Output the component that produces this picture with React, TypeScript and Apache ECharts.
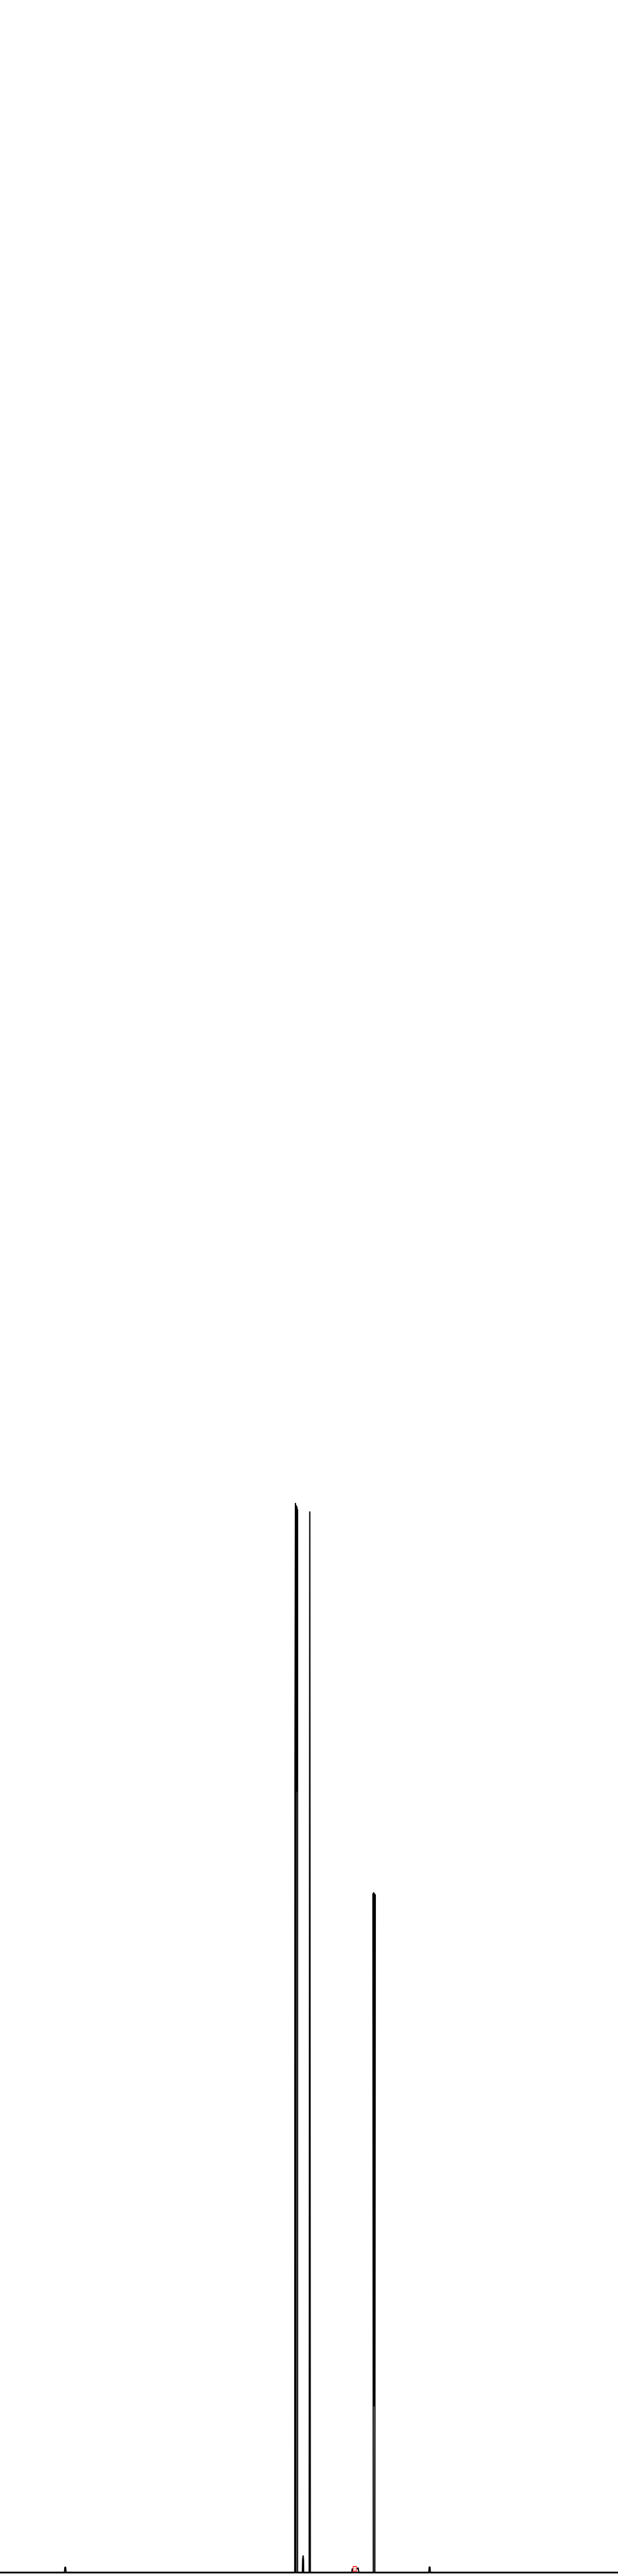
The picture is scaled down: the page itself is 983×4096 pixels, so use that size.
import React, { useEffect, useRef } from "react";
import * as echarts from "echarts";

// x in arbitrary units (0 – 144), intensity in % of base peak
const xRange = [0, 144];
const yMax = 240.5;

const baselineStart: [number, number][] = [[0, 0]];
const peak15: [number, number][] = [[15.0, 0], [15.1, 0.36], [15.12, 0.5], [15.3, 0.5], [15.32, 0.36], [15.4, 0]];
const peak688: [number, number][] = [
  [68.68, 0], [68.73, 74.6], [68.84, 100], [68.95, 0], [69.0, 99.8], [69.06, 74],
  [69.11, 99.7], [69.16, 73], [69.22, 99.6], [69.27, 74], [69.33, 99.4], [69.33, 0],
];
const peak706: [number, number][] = [[70.46, 0], [70.52, 1.17], [70.63, 1.6], [70.72, 1.17], [70.75, 0]];
const peak722: [number, number][] = [[72.04, 0], [72.15, 74.4], [72.18, 99.2], [72.21, 74.4], [72.3, 0]];
const peak827: [number, number][] = [[81.98, 0], [82.08, 0.36], [82.67, 0.35], [83.3, 0.38], [83.45, 0.45], [83.62, 0]];
const peak872: [number, number][] = [
  [86.98, 0], [86.90, 63.5], [86.99, 15.5], [87.08, 63.6], [87.17, 15.6],
  [87.26, 63.5], [87.35, 15.5], [87.44, 63.4], [87.34, 0],
];
const peak1001: [number, number][] = [[99.92, 0], [99.98, 0.36], [100.0, 0.52], [100.2, 0.52], [100.22, 0.36], [100.28, 0]];
const baselineEnd: [number, number][] = [[144, 0]];

const markedPoint: [number, number][] = [[82.67, 0.35]];

export default function App() {
  const ref = useRef<HTMLDivElement>(null);
  useEffect(() => {
    if (!ref.current) return;
    const chart = echarts.init(ref.current, null, { renderer: "svg" });
    const lineData = [
      ...baselineStart,
      ...peak15,
      ...peak688,
      ...peak706,
      ...peak722,
      ...peak827,
      ...peak872,
      ...peak1001,
      ...baselineEnd,
    ];
    chart.setOption({
      animation: false,
      backgroundColor: "#ffffff",
      grid: { left: 0, right: 0, top: 0, bottom: 5.4, containLabel: false },
      xAxis: {
        type: "value",
        min: xRange[0],
        max: xRange[1],
        axisLine: { show: true, onZero: false, lineStyle: { color: "#000", width: 2.7 } },
        axisTick: { show: false },
        axisLabel: { show: false },
        splitLine: { show: false },
      },
      yAxis: {
        type: "value",
        min: 0,
        max: yMax,
        show: false,
        splitLine: { show: false },
      },
      series: [
        {
          type: "line",
          data: lineData,
          showSymbol: false,
          symbol: "none",
          clip: false,
          lineStyle: { color: "#000", width: 2 },
          z: 2,
        },
        {
          type: "scatter",
          data: markedPoint,
          symbol: "rect",
          symbolSize: [5.5, 7.5],
          itemStyle: { color: "#fff", borderColor: "#ff0000", borderWidth: 1.4 },
          z: 3,
        },
      ],
    });
    return () => chart.dispose();
  }, []);
  return (
    <div
      ref={ref}
      style={{ position: "absolute", left: 0, top: 0, width: 983, height: 4096 }}
    />
  );
}
